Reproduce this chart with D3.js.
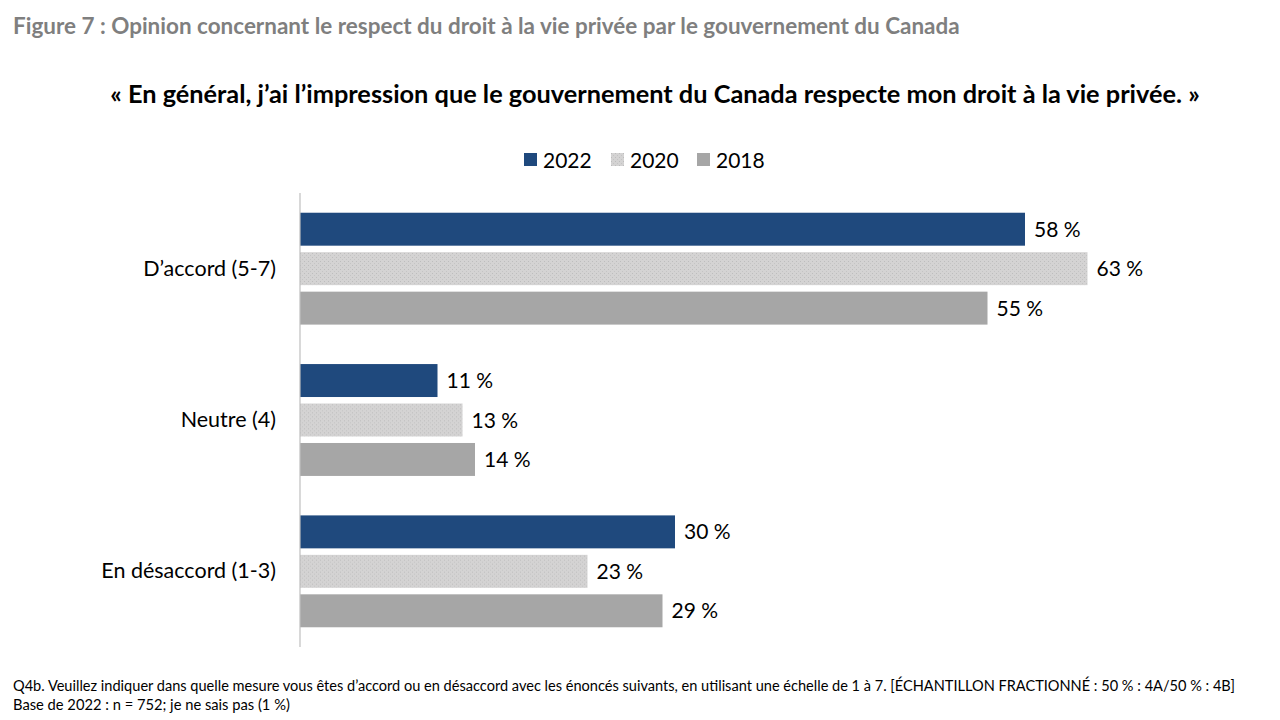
<!DOCTYPE html>
<html>
<head>
<meta charset="utf-8">
<style>
  body { margin: 0; background: #fff; }
  svg { display: block; font-family: Lato, "Open Sans", sans-serif; }
</style>
</head>
<body>
<div class="chart"></div>
<script src="https://d3js.org/d3.v7.min.js"></script>
<script>
// data
const categories = ["D\u2019accord (5-7)", "Neutre (4)", "En d\u00e9saccord (1-3)"];
const seriesNames = ["2022", "2020", "2018"];
const values2022 = [58, 11, 30];
const values2020 = [63, 13, 23];
const values2018 = [55, 14, 29];
const seriesValues = [values2022, values2020, values2018];

const figureTitle = "Figure 7 : Opinion concernant le respect du droit \u00e0 la vie priv\u00e9e par le gouvernement du Canada";
const subTitle = "\u00ab En g\u00e9n\u00e9ral, j\u2019ai l\u2019impression que le gouvernement du Canada respecte mon droit \u00e0 la vie priv\u00e9e. \u00bb";
const notes = [
  "Q4b. Veuillez indiquer dans quelle mesure vous \u00eates d\u2019accord ou en d\u00e9saccord avec les \u00e9nonc\u00e9s suivants, en utilisant une \u00e9chelle de 1 \u00e0 7. [\u00c9CHANTILLON FRACTIONN\u00c9 : 50 % : 4A/50 % : 4B]",
  "Base de 2022 : n = 752; je ne sais pas (1 %)"
];

const width = 1280, height = 720;
const colors = { "2022": "#1F497D", "2020": "url(#dots)", "2018": "#A6A6A6" };

const svg = d3.select(".chart").append("svg")
  .attr("width", width).attr("height", height);

// dotted texture for the 2020 bars
const pat = svg.append("defs").append("pattern")
  .attr("id", "dots").attr("patternUnits", "userSpaceOnUse")
  .attr("width", 4).attr("height", 4);
pat.append("rect").attr("width", 4).attr("height", 4).attr("fill", "#D4D3D3");
pat.append("rect").attr("x", 0).attr("y", 0).attr("width", 1).attr("height", 1).attr("fill", "#BDBDBD");
pat.append("rect").attr("x", 2).attr("y", 2).attr("width", 1).attr("height", 1).attr("fill", "#C4C4C4");

// size a text so it spans a given width
function fitTo(sel, w) {
  const fs = parseFloat(sel.attr("font-size"));
  const cur = sel.node().getComputedTextLength();
  sel.attr("font-size", fs * w / cur);
}

const t1 = svg.append("text").attr("x", 13).attr("y", 34)
  .attr("font-size", 19).attr("font-weight", "bold").attr("fill", "#7F7F7F")
  .text(figureTitle);
fitTo(t1, 947);

const t2 = svg.append("text").attr("x", 655).attr("y", 103)
  .attr("text-anchor", "middle")
  .attr("font-size", 23).attr("font-weight", "bold").attr("fill", "#000")
  .text(subTitle);
fitTo(t2, 1090);

// scales
const y0 = d3.scaleBand().domain(categories).range([193, 647]);
const y1 = d3.scaleBand().domain(seriesNames).range([0, y0.bandwidth()])
  .paddingInner(0.165).paddingOuter(0.5);
const x = d3.scaleLinear().domain([0, 70]).range([300, 300 + 70 * 12.5]);

const rows = categories.map((c, i) => ({
  cat: c,
  vals: seriesNames.map((s, j) => ({ series: s, value: seriesValues[j][i] }))
}));

const groups = svg.append("g").selectAll("g")
  .data(rows).join("g")
  .attr("transform", d => `translate(0,${y0(d.cat)})`);

groups.selectAll("rect")
  .data(d => d.vals).join("rect")
  .attr("x", x(0))
  .attr("y", d => y1(d.series))
  .attr("width", d => x(d.value) - x(0))
  .attr("height", y1.bandwidth())
  .attr("fill", d => colors[d.series]);

groups.selectAll("text.val")
  .data(d => d.vals).join("text")
  .attr("class", "val")
  .attr("x", d => x(d.value) + 9)
  .attr("y", d => y1(d.series) + y1.bandwidth() / 2)
  .attr("dy", "0.36em")
  .attr("font-size", 21).attr("fill", "#000")
  .text(d => d.value + " %");

// category axis
const yAxis = svg.append("g")
  .attr("transform", `translate(${x(0)},0)`)
  .call(d3.axisLeft(y0).tickSize(0).tickPadding(24));
yAxis.select(".domain").attr("stroke", "#BFBFBF").attr("stroke-width", 1.2)
  .attr("d", `M0,193V647`);
yAxis.selectAll("text").attr("font-size", 21.5).attr("fill", "#000")
  .attr("font-family", "Lato, 'Open Sans', sans-serif");

// legend
const legendX = [524, 611, 697];
const legend = svg.append("g").selectAll("g")
  .data(seriesNames).join("g")
  .attr("transform", (d, i) => `translate(${legendX[i]},153)`);
legend.append("rect").attr("width", 13).attr("height", 13)
  .attr("fill", d => colors[d]);
legend.append("text").attr("x", 19).attr("y", 7).attr("dy", "0.36em")
  .attr("font-size", 21).attr("fill", "#000").text(d => d);

// notes
notes.forEach((n, i) => {
  const t = svg.append("text").attr("x", 13).attr("y", 691 + i * 19)
    .attr("font-size", 14).attr("fill", "#000").text(n);
  if (i === 0) fitTo(t, 1223);
  else fitTo(t, 277);
});
</script>
</body>
</html>
